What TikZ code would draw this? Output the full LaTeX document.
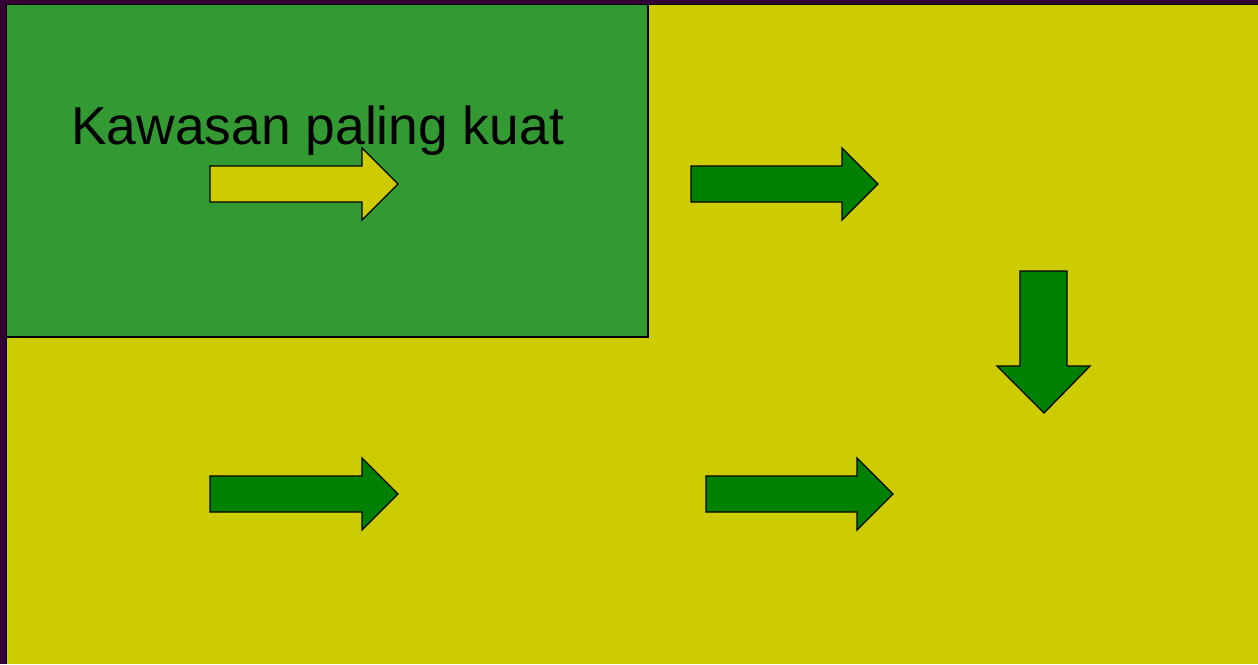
\documentclass[tikz,border=0pt]{standalone}
\usepackage{fontspec}
\setmainfont{Liberation Sans}
\definecolor{frame}{HTML}{330033}
\definecolor{bgyellow}{HTML}{CCCC00}
\definecolor{boxgreen}{HTML}{339933}
\definecolor{arrowgreen}{HTML}{008000}
\tikzset{
  blockarrow/.style={draw=black, line width=1.3pt, line join=miter},
  greenarrow/.style={blockarrow, fill=arrowgreen},
  yellowarrow/.style={blockarrow, fill=bgyellow},
}
\begin{document}
\begin{tikzpicture}[x=1pt,y=-1pt]
\useasboundingbox (0,0) rectangle (1258,664);
\fill[frame] (0,0) rectangle (1258,664);
\fill[black] (5.5,4) rectangle (1258,664);
\fill[bgyellow] (7,5.2) rectangle (1258,664);
\fill[black] (647,5) rectangle (649,338);
\fill[black] (7,336) rectangle (649,338);
\fill[boxgreen] (7,5.2) rectangle (647,336);
\node[anchor=base west, inner sep=0pt, font=\fontsize{53.4}{60}\selectfont] (title) at (71,144.5) {Kawasan paling kuat};
% right arrows
\draw[yellowarrow] (210,166) -- (362,166) -- (362,148) -- (398,184) -- (362,220) -- (362,202) -- (210,202) -- cycle;
\draw[greenarrow] (691,166) -- (842,166) -- (842,148) -- (878,184) -- (842,220) -- (842,202) -- (691,202) -- cycle;
\draw[greenarrow] (210,476) -- (362,476) -- (362,458) -- (398,494) -- (362,530) -- (362,512) -- (210,512) -- cycle;
\draw[greenarrow] (706,476) -- (857,476) -- (857,458) -- (893,494) -- (857,530) -- (857,512) -- (706,512) -- cycle;
% down arrow
\draw[greenarrow] (1020,271) -- (1067,271) -- (1067,366) -- (1090,366) -- (1044,413) -- (997,366) -- (1020,366) -- cycle;
\end{tikzpicture}
\end{document}
